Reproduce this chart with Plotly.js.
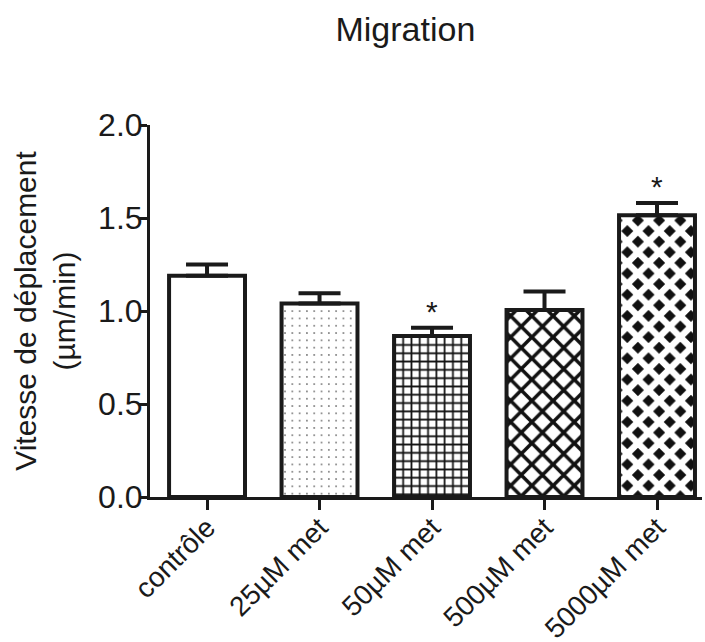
<!DOCTYPE html>
<html>
<head>
<meta charset="utf-8">
<script src="https://cdn.plot.ly/plotly-3.0.1.min.js"></script>
<style>html,body{margin:0;padding:0;background:#fff;}#chart{width:705px;height:642px;}</style>
</head>
<body>
<div id="chart"></div>
<script>
const categories = ['contrôle', '25µM met', '50µM met', '500µM met', '5000µM met'];
const means = [1.19, 1.04, 0.865, 1.005, 1.515];
const sem = [0.06, 0.055, 0.045, 0.10, 0.065];
const stars = ['', '', '*', '', '*'];
const yTicks = [0, 0.5, 1.0, 1.5, 2.0];

const FONT = 'Arial, "Liberation Sans", sans-serif';
const INK = '#1a1a1a';

const patterns = [
  {shape: '', bgcolor: '#ffffff'},
  {shape: '.', size: 7.3, solidity: 0.045, fgcolor: '#6a6a6a', bgcolor: '#ffffff', fillmode: 'replace'},
  {shape: '+', size: 8.3, solidity: 0.38, fgcolor: '#111111', bgcolor: '#ffffff', fillmode: 'replace'},
  {shape: 'x', size: 15, solidity: 0.42, fgcolor: '#111111', bgcolor: '#ffffff', fillmode: 'replace'},
  {shape: 'x', size: 15, solidity: 0.68, fgcolor: '#ffffff', bgcolor: '#111111', fillmode: 'replace'}
];

const traces = categories.map((c, i) => ({
  type: 'bar',
  x: [c],
  y: [means[i]],
  width: 0.675,
  marker: {color: '#ffffff', line: {color: INK, width: 4}, pattern: patterns[i]},
  error_y: {type: 'data', symmetric: false, array: [sem[i]], arrayminus: [0], color: INK, thickness: 4, width: 21},
  showlegend: false,
  hoverinfo: 'none'
}));

const annotations = categories
  .map((c, i) => ({c, i}))
  .filter(o => stars[o.i])
  .map(o => ({
    x: o.c, y: means[o.i] + sem[o.i], xref: 'x', yref: 'y',
    text: stars[o.i], showarrow: false, yanchor: 'bottom', yshift: -2,
    font: {family: FONT, size: 30, color: INK}
  }));

const layout = {
  width: 705, height: 642,
  margin: {l: 150, r: 3, t: 125, b: 145},
  paper_bgcolor: '#ffffff', plot_bgcolor: '#ffffff',
  font: {family: FONT, color: INK},
  title: {text: 'Migration', font: {family: FONT, size: 34, color: INK}, x: 0.575, xanchor: 'center', y: 0.955, yanchor: 'middle'},
  bargap: 0.3,
  xaxis: {
    type: 'category', categoryorder: 'array', categoryarray: categories,
    range: [-0.507, 4.4], fixedrange: true,
    showline: true, linecolor: INK, linewidth: 3, mirror: false,
    showgrid: false, zeroline: false,
    ticks: 'outside', ticklen: 10, tickwidth: 3, tickcolor: INK,
    ticklabelstandoff: -10,
    tickangle: -45, tickfont: {family: FONT, size: 28, color: INK}
  },
  yaxis: {
    range: [0, 2], fixedrange: true,
    tickvals: yTicks, ticktext: yTicks.map(v => v.toFixed(1)),
    showline: true, linecolor: INK, linewidth: 3,
    showgrid: false, zeroline: false,
    ticks: 'outside', ticklen: 8, tickwidth: 3, tickcolor: INK,
    ticklabelstandoff: -10,
    tickfont: {family: FONT, size: 32, color: INK},
    title: {text: 'Vitesse de déplacement<br>(µm/min)', font: {family: FONT, size: 30, color: INK}, standoff: 14}
  },
  annotations: annotations
};

Plotly.newPlot('chart', traces, layout, {displayModeBar: false, staticPlot: true});
</script>
</body>
</html>
